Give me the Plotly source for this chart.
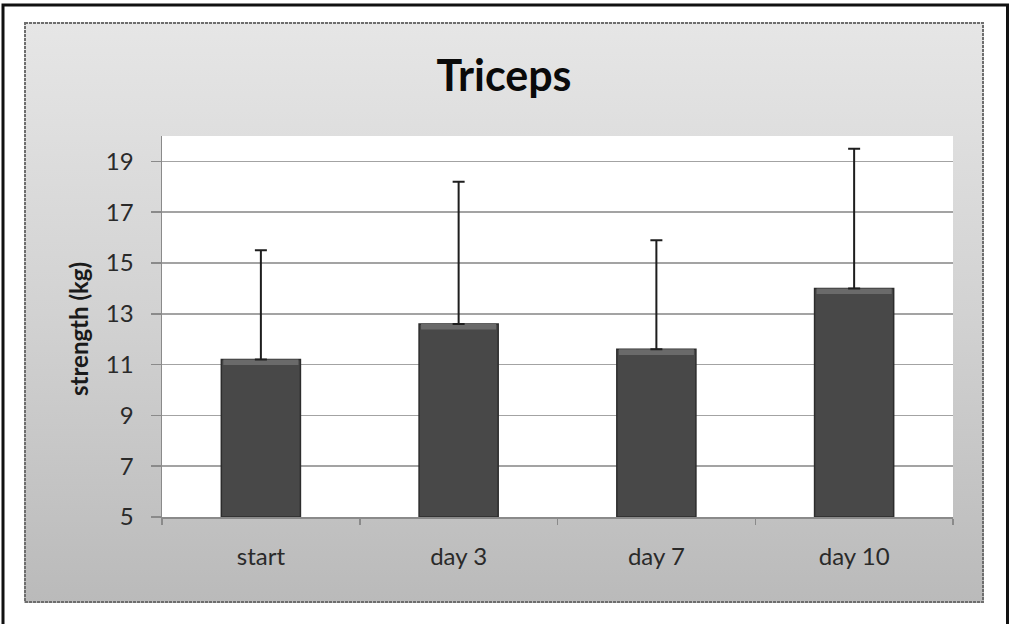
import base64
import plotly.graph_objects as go

# ---- data ----
categories = ["start", "day 3", "day 7", "day 10"]
means = [11.2, 12.6, 11.6, 14.0]
err_plus = [4.3, 5.6, 4.3, 5.5]
err_minus = [0, 0, 0, 0]
y_ticks = [5, 7, 9, 11, 13, 15, 17, 19]
y_range = [5, 20]
title_text = "Triceps"
y_title = "strength (kg)"

# ---- layout geometry (pixels) ----
W, H = 1011, 624
L, R, T, B = 162, 58, 136, 107
PW, PH = W - L - R, H - T - B
PANEL = (24, 22, 984, 603)  # x0, y0, x1, y1
BEVEL = 0.22  # depth of the lighter top edge of each bar, in axis units


def px(x):
    return (x - L) / PW


def py(y):
    return (H - B - y) / PH


FONT = "Lato"

# gradient panel (with white plot area window) as svg image
pw, ph = PANEL[2] - PANEL[0], PANEL[3] - PANEL[1]
svg = (
    f'<svg xmlns="http://www.w3.org/2000/svg" width="{pw}" height="{ph}" '
    f'viewBox="0 0 {pw} {ph}" preserveAspectRatio="none">'
    '<defs><linearGradient id="g" x1="0" y1="0" x2="0" y2="1">'
    '<stop offset="0" stop-color="#e6e6e6"/>'
    '<stop offset="0.5" stop-color="#d2d2d2"/>'
    '<stop offset="1" stop-color="#bababa"/>'
    '</linearGradient></defs>'
    f'<rect x="0" y="0" width="{pw}" height="{ph}" fill="url(#g)"/>'
    f'<rect x="1" y="1" width="{pw-2}" height="{ph-2}" fill="none" stroke="#6e6e6e" '
    'stroke-width="2" stroke-dasharray="3,1"/>'
    f'<rect x="{L-PANEL[0]}" y="{T-PANEL[1]}" width="{PW}" height="{PH}" fill="#ffffff"/>'
    '</svg>'
)
svg_uri = "data:image/svg+xml;base64," + base64.b64encode(svg.encode()).decode()

fig = go.Figure()
fig.add_trace(
    go.Bar(
        x=categories,
        y=[m - y_range[0] for m in means],
        base=y_range[0],
        marker=dict(color="#484848", line=dict(color="#2c2c2c", width=1.5)),
        width=0.4,
        showlegend=False,
        hoverinfo="skip",
    )
)
# lighter bevel strip on top of each bar
fig.add_trace(
    go.Bar(
        x=categories,
        y=[BEVEL] * len(means),
        base=[m - BEVEL for m in means],
        marker=dict(color="#6a6a6a", line=dict(width=0)),
        width=0.38,
        showlegend=False,
        hoverinfo="skip",
    )
)
# error bars (upper only)
fig.add_trace(
    go.Scatter(
        x=categories,
        y=means,
        mode="markers",
        marker=dict(size=1, color="rgba(0,0,0,0)"),
        error_y=dict(
            type="data",
            symmetric=False,
            array=err_plus,
            arrayminus=err_minus,
            color="#1e1e1e",
            thickness=2,
            width=6,
        ),
        showlegend=False,
        hoverinfo="skip",
    )
)

fig.update_layout(
    width=W,
    height=H,
    barmode="overlay",
    margin=dict(l=L, r=R, t=T, b=B, autoexpand=False),
    paper_bgcolor="white",
    plot_bgcolor="white",
    showlegend=False,
    title=dict(
        text=title_text,
        font=dict(family=FONT, size=43, color="#0a0a0a", weight="bold"),
        x=504 / W,
        xanchor="center",
        xref="container",
        y=1 - 76 / H,
        yanchor="middle",
        yref="container",
    ),
    xaxis=dict(
        type="category",
        showgrid=False,
        showline=True,
        linecolor="#8a8a8a",
        linewidth=1.5,
        ticks="outside",
        tickson="boundaries",
        ticklen=6,
        tickcolor="#8a8a8a",
        tickwidth=1.5,
        tickfont=dict(family=FONT, size=24, color="#2a2a2a"),
        ticklabelstandoff=18,
        fixedrange=True,
    ),
    yaxis=dict(
        range=y_range,
        tickvals=y_ticks,
        ticktext=[str(v) for v in y_ticks],
        showgrid=True,
        gridcolor="#a3a3a3",
        gridwidth=1.5,
        showline=True,
        linecolor="#8a8a8a",
        linewidth=1.5,
        ticks="outside",
        ticklen=10,
        tickcolor="#8a8a8a",
        tickwidth=1.5,
        tickfont=dict(family=FONT, size=24, color="#2a2a2a"),
        ticklabelstandoff=12,
        zeroline=False,
        fixedrange=True,
    ),
    images=[
        dict(
            source=svg_uri,
            xref="paper",
            yref="paper",
            x=px(PANEL[0]),
            y=py(PANEL[1]),
            sizex=px(PANEL[2]) - px(PANEL[0]),
            sizey=py(PANEL[1]) - py(PANEL[3]),
            xanchor="left",
            yanchor="top",
            sizing="stretch",
            layer="below",
        )
    ],
    shapes=[
        dict(
            type="rect",
            xref="paper",
            yref="paper",
            x0=px(3),
            x1=px(1007.5),
            y0=py(640),
            y1=py(5),
            line=dict(color="#111111", width=3),
            fillcolor="rgba(0,0,0,0)",
            layer="above",
        )
    ],
    annotations=[
        dict(
            text=y_title,
            xref="paper",
            yref="paper",
            x=px(78),
            y=py(329),
            xanchor="center",
            yanchor="middle",
            textangle=-90,
            showarrow=False,
            font=dict(family=FONT, size=24, color="#1a1a1a", weight="bold"),
        )
    ],
)

fig.write_html(
    "out.html",
    config={"displayModeBar": False, "staticPlot": True},
    post_script="document.body.style.margin='0';",
)
